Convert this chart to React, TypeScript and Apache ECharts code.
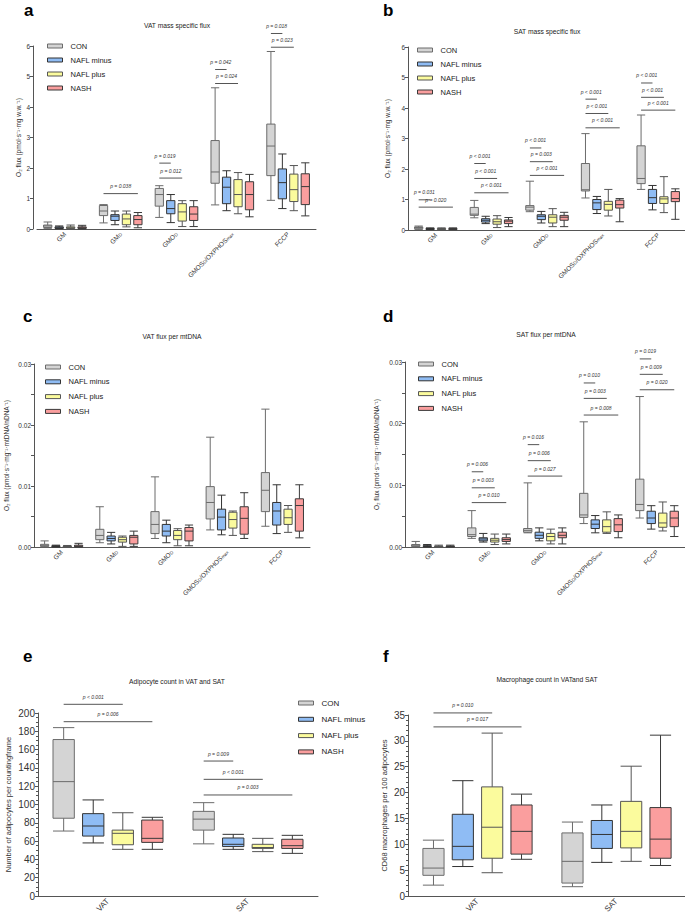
import React, { useEffect, useRef } from 'react';
import * as echarts from 'echarts';

const GROUPS = ['CON', 'NAFL minus', 'NAFL plus', 'NASH'];
const FILL = ['#d4d4d4', '#8fbcf4', '#fbfb9d', '#fa9e9e'];
const BORDER = ['#6b6b6b', '#333333', '#555555', '#3a3a3a'];
const FONT = '"Liberation Sans", Arial, sans-serif';

// categories
const fluxCats = ['GM', 'GM_D', 'GMO_D', 'GMOS_D/OXPHOS_max', 'FCCP'];
const tissueCats = ['VAT', 'SAT'];

// a: VAT mass specific flux [min, q1, median, q3, max]
const aCON = [[0.02, 0.05, 0.1, 0.13, 0.23], [0.2, 0.44, 0.59, 0.77, 0.8], [0.38, 0.75, 1.13, 1.33, 1.42], [0.79, 1.5, 1.87, 2.9, 4.63], [0.94, 1.75, 2.72, 3.44, 5.82]];
const aMinus = [[0.01, 0.02, 0.04, 0.07, 0.1], [0.14, 0.28, 0.42, 0.47, 0.59], [0.21, 0.5, 0.67, 0.93, 1.13], [0.6, 0.83, 1.37, 1.7, 1.91], [0.67, 0.99, 1.52, 1.97, 2.46]];
const aPlus = [[0, 0.02, 0.04, 0.07, 0.13], [0.07, 0.14, 0.33, 0.49, 0.59], [0.08, 0.26, 0.56, 0.83, 0.93], [0.5, 0.73, 1.13, 1.62, 1.85], [0.6, 0.9, 1.29, 1.8, 2.08]];
const aNash = [[0, 0.02, 0.04, 0.07, 0.12], [0.04, 0.14, 0.31, 0.44, 0.54], [0.08, 0.28, 0.49, 0.73, 0.93], [0.4, 0.63, 1.13, 1.55, 1.79], [0.43, 0.8, 1.39, 1.81, 2.17]];
const aSig: [number, number, number, number, string][] = [[1, 0, 3, 1.16, 'p = 0.038'], [2, 0, 1, 2.16, 'p = 0.019'], [2, 0, 2, 1.67, 'p = 0.012'], [3, 0, 1, 5.23, 'p = 0.042'], [3, 0, 2, 4.77, 'p = 0.024'], [4, 0, 1, 6.41, 'p = 0.018'], [4, 0, 2, 5.96, 'p = 0.023']];

// b: SAT mass specific flux
const bCON = [[0.02, 0.04, 0.08, 0.1, 0.13], [0.4, 0.48, 0.52, 0.74, 0.97], [0.6, 0.65, 0.75, 0.8, 1.6], [1.05, 1.28, 1.32, 2.18, 3.16], [1.33, 1.52, 1.69, 2.76, 3.77]];
const bMinus = [[0.01, 0.02, 0.04, 0.05, 0.07], [0.21, 0.26, 0.32, 0.37, 0.45], [0.23, 0.34, 0.45, 0.5, 0.61], [0.54, 0.67, 0.89, 1.0, 1.1], [0.66, 0.87, 1.06, 1.33, 1.46]];
const bPlus = [[0.01, 0.02, 0.03, 0.05, 0.07], [0.08, 0.19, 0.27, 0.36, 0.47], [0.11, 0.23, 0.42, 0.5, 0.7], [0.46, 0.65, 0.84, 0.94, 1.33], [0.57, 0.87, 1.02, 1.09, 1.75]];
const bNash = [[0.01, 0.02, 0.03, 0.05, 0.07], [0.11, 0.21, 0.29, 0.33, 0.41], [0.11, 0.32, 0.42, 0.48, 0.58], [0.27, 0.72, 0.83, 0.98, 1.03], [0.35, 0.93, 1.03, 1.26, 1.35]];
const bSig: [number, number, number, number, string][] = [[0, 0, 1, 0.99, 'p = 0.031'], [0, 0, 3, 0.75, 'p = 0.020'], [1, 0, 1, 2.18, 'p < 0.001'], [1, 0, 2, 1.69, 'p < 0.001'], [1, 0, 3, 1.22, 'p < 0.001'], [2, 0, 1, 2.69, 'p < 0.001'], [2, 0, 2, 2.24, 'p = 0.003'], [2, 0, 3, 1.79, 'p < 0.001'], [3, 0, 1, 4.29, 'p < 0.001'], [3, 0, 2, 3.82, 'p < 0.001'], [3, 0, 3, 3.35, 'p < 0.001'], [4, 0, 1, 4.82, 'p < 0.001'], [4, 0, 2, 4.35, 'p < 0.001'], [4, 0, 3, 3.93, 'p < 0.001']];

// c: VAT flux per mtDNA
const cCON = [[0, 0.0001, 0.00027, 0.00044, 0.001], [0.0007, 0.0012, 0.0019, 0.0029, 0.0066], [0.0014, 0.0022, 0.0037, 0.0058, 0.0115], [0.0028, 0.0046, 0.0073, 0.0099, 0.018], [0.0034, 0.0058, 0.0093, 0.0122, 0.0226]];
const cMinus = [[0, 0.00005, 0.0001, 0.0002, 0.0003], [0.0005, 0.001, 0.0014, 0.0018, 0.0024], [0.0007, 0.0018, 0.0026, 0.0037, 0.0044], [0.002, 0.0028, 0.0049, 0.0062, 0.0085], [0.0022, 0.0036, 0.0059, 0.0073, 0.0102]];
const cPlus = [[0, 0.00003, 0.0001, 0.00015, 0.00025], [0.0001, 0.0008, 0.0012, 0.0016, 0.0018], [0.0002, 0.0012, 0.0019, 0.0027, 0.003], [0.0019, 0.0031, 0.0045, 0.0057, 0.0059], [0.0024, 0.0037, 0.0048, 0.0062, 0.0068]];
const cNash = [[0, 0.00005, 0.00015, 0.0003, 0.0006], [0.0001, 0.0005, 0.0016, 0.0019, 0.0026], [0.0002, 0.001, 0.0026, 0.0032, 0.0036], [0.0014, 0.0021, 0.0047, 0.0066, 0.0089], [0.0015, 0.0026, 0.0068, 0.0079, 0.0102]];
const cSig: [number, number, number, number, string][] = [];

// d: SAT flux per mtDNA
const dCON = [[0, 0.0001, 0.0002, 0.0004, 0.0009], [0.0014, 0.0017, 0.002, 0.0031, 0.0059], [0.0023, 0.0024, 0.0027, 0.003, 0.0104], [0.0038, 0.0048, 0.0052, 0.0087, 0.0203], [0.0047, 0.0059, 0.0069, 0.011, 0.0244]];
const dMinus = [[0, 0.0001, 0.00015, 0.0002, 0.0004], [0.0008, 0.001, 0.0013, 0.0015, 0.0022], [0.001, 0.0014, 0.0019, 0.0024, 0.0031], [0.0023, 0.003, 0.0037, 0.0044, 0.0051], [0.0029, 0.0038, 0.0047, 0.0058, 0.0067]];
const dPlus = [[0, 0.00005, 0.0001, 0.00015, 0.0003], [0.0004, 0.0008, 0.0011, 0.0014, 0.0021], [0.0005, 0.001, 0.0017, 0.0022, 0.0029], [0.0022, 0.0024, 0.0033, 0.0044, 0.0057], [0.0026, 0.0032, 0.0039, 0.0055, 0.0073]];
const dNash = [[0, 0.00005, 0.0001, 0.00015, 0.0003], [0.0005, 0.0009, 0.0012, 0.0015, 0.0021], [0.0005, 0.0015, 0.0019, 0.0024, 0.0031], [0.0015, 0.0025, 0.0036, 0.0046, 0.0052], [0.0017, 0.0033, 0.0047, 0.0058, 0.0067]];
const dSig: [number, number, number, number, string][] = [[1, 0, 1, 0.0122, 'p = 0.006'], [1, 0, 2, 0.0096, 'p = 0.003'], [1, 0, 3, 0.0072, 'p = 0.010'], [2, 0, 1, 0.0166, 'p = 0.016'], [2, 0, 2, 0.014, 'p = 0.006'], [2, 0, 3, 0.0115, 'p = 0.027'], [3, 0, 1, 0.0266, 'p = 0.010'], [3, 0, 2, 0.0241, 'p = 0.003'], [3, 0, 3, 0.0214, 'p = 0.008'], [4, 0, 1, 0.0305, 'p = 0.019'], [4, 0, 2, 0.028, 'p = 0.009'], [4, 0, 3, 0.0255, 'p = 0.020']];

// e: adipocyte count
const eCON = [[71, 85, 125, 171, 184], [57, 72, 84, 92.5, 102]];
const eMinus = [[58, 65.5, 76.5, 90, 105], [51, 54, 56.5, 63.4, 67.4]];
const ePlus = [[51, 56, 68.5, 72, 91], [48.5, 52, 53, 56.5, 63]];
const eNash = [[51, 58.6, 63, 83, 86], [46.6, 52, 55, 62, 66.3]];
const eSig: [number, number, number, number, string][] = [[0, 0, 2, 209.5, 'p < 0.001'], [0, 0, 3, 190.5, 'p = 0.006'], [1, 0, 1, 147.5, 'p = 0.009'], [1, 0, 2, 127.5, 'p < 0.001'], [1, 0, 3, 110.4, 'p = 0.003']];

// f: macrophage count
const fCON = [[2.1, 4.0, 5.4, 9.2, 10.8], [1.8, 2.5, 6.7, 12.2, 14.3]];
const fMinus = [[5.7, 7.0, 9.6, 15.8, 22.3], [6.5, 9.2, 11.9, 14.6, 17.6]];
const fPlus = [[4.5, 7.3, 13.3, 21.1, 31.5], [6.7, 9.3, 12.5, 18.3, 25.1]];
const fNash = [[7.1, 8.1, 12.5, 17.6, 19.7], [5.9, 7.3, 11.0, 17.1, 31.1]];
const fSig: [number, number, number, number, string][] = [[0, 0, 2, 35.4, 'p = 0.010'], [0, 0, 3, 32.7, 'p = 0.017']];

const Y_FLUX_MASS = 'O\u2082 flux (pmol\u00b7s\u207b\u00b9\u00b7mg w.w.\u207b\u00b9)';
const Y_FLUX_MT = 'O\u2082 flux (pmol\u00b7s\u207b\u00b9\u00b7mg\u207b\u00b9\u00b7mtDNA/nDNA\u207b\u00b9)';

function richCat(v: string) {
  return v
    .split(/(_[A-Za-z]+)/)
    .filter(Boolean)
    .map((p) => (p.startsWith('_') ? `{s|${p.slice(1)}}` : `{n|${p}}`))
    .join('');
}

const fmtMt = (v: number) => (Math.abs(v * 100 - Math.round(v * 100)) < 1e-6 ? v.toFixed(2) : '');

const panels = [
  { cats: fluxCats, groups: [aCON, aMinus, aPlus, aNash], sig: aSig, grid: { left: 37, top: 46, width: 279, height: 183 }, yOffset: 4, max: 6, interval: 1, minor: 0, fmt: null as any, yName: Y_FLUX_MASS, nameGap: 10, lblFs: 6.5, xFs: 6.5, nameFs: 6.5 },
  { cats: fluxCats, groups: [bCON, bMinus, bPlus, bNash], sig: bSig, grid: { left: 408, top: 47, width: 278, height: 183 }, yOffset: 0, max: 6, interval: 1, minor: 0, fmt: null as any, yName: Y_FLUX_MASS, nameGap: 17, lblFs: 6.5, xFs: 6.5, nameFs: 6.5 },
  { cats: fluxCats, groups: [cCON, cMinus, cPlus, cNash], sig: cSig, grid: { left: 34, top: 364, width: 276, height: 183 }, yOffset: 0, max: 0.03, interval: 0.005, minor: 0, fmt: fmtMt, yName: Y_FLUX_MT, nameGap: 24, lblFs: 6.5, xFs: 6.5, nameFs: 6.5 },
  { cats: fluxCats, groups: [dCON, dMinus, dPlus, dNash], sig: dSig, grid: { left: 405, top: 362, width: 280, height: 185 }, yOffset: 0, max: 0.03, interval: 0.005, minor: 0, fmt: fmtMt, yName: Y_FLUX_MT, nameGap: 25, lblFs: 6.5, xFs: 6.5, nameFs: 6.5 },
  { cats: tissueCats, groups: [eCON, eMinus, ePlus, eNash], sig: eSig, grid: { left: 38, top: 713, width: 280, height: 183 }, yOffset: 0, max: 200, interval: 20, minor: 4, fmt: null as any, yName: 'Number of adipocytes per countingframe', nameGap: 26, lblFs: 10, xFs: 8, nameFs: 7.5 },
  { cats: tissueCats, groups: [fCON, fMinus, fPlus, fNash], sig: fSig, grid: { left: 408, top: 715, width: 278, height: 181 }, yOffset: 0, max: 35, interval: 5, minor: 5, fmt: null as any, yName: 'CD68 macrophages per 100 adipocytes', nameGap: 20, lblFs: 10, xFs: 8, nameFs: 7.5 },
];

const titles = [
  { text: 'VAT mass specific flux', x: 177, y: 25 },
  { text: 'SAT mass specific flux', x: 547, y: 31 },
  { text: 'VAT flux per mtDNA', x: 172, y: 336 },
  { text: 'SAT flux per mtDNA', x: 546, y: 334 },
  { text: 'Adipocyte count in VAT and SAT', x: 177, y: 681 },
  { text: 'Macrophage count in VATand SAT', x: 547, y: 679 },
];
const letters = [
  { text: 'a', x: 24, y: 10 },
  { text: 'b', x: 383, y: 10 },
  { text: 'c', x: 23, y: 316 },
  { text: 'd', x: 383, y: 316 },
  { text: 'e', x: 23, y: 656 },
  { text: 'f', x: 383, y: 656 },
];
const legends = [
  { left: 47, top: 42, gap: 6, fs: 7.5 },
  { left: 417, top: 46, gap: 6, fs: 7.5 },
  { left: 45, top: 363, gap: 6.8, fs: 7.5 },
  { left: 418, top: 360, gap: 6.8, fs: 7.5 },
  { left: 298, top: 699, gap: 8.3, fs: 8 },
];

function buildOption() {
  const grid: any[] = [];
  const xAxis: any[] = [];
  const yAxis: any[] = [];
  const series: any[] = [];
  panels.forEach((p, i) => {
    grid.push({ ...p.grid, containLabel: false, outerBoundsMode: 'none' });
    xAxis.push({
      type: 'category',
      gridIndex: i,
      data: p.cats,
      axisLine: { lineStyle: { color: '#555', width: 1 } },
      axisTick: { alignWithLabel: true, length: 4, lineStyle: { color: '#555' } },
      axisLabel: {
        interval: 0,
        rotate: 45,
        margin: 4,
        color: '#333',
        fontFamily: FONT,
        fontSize: p.xFs,
        hideOverlap: false,
        formatter: richCat,
        rich: {
          n: { fontSize: p.xFs, color: '#333', fontFamily: FONT },
          s: { fontSize: p.xFs * 0.7, color: '#333', fontFamily: FONT, verticalAlign: 'bottom' },
        },
      },
    });
    yAxis.push({
      type: 'value',
      gridIndex: i,
      min: 0,
      max: p.max,
      interval: p.interval,
      offset: p.yOffset,
      axisLine: { show: true, lineStyle: { color: '#555', width: 1 } },
      axisTick: { show: true, length: 3, lineStyle: { color: '#555' } },
      minorTick: { show: p.minor > 0, splitNumber: p.minor || 5, length: 2, lineStyle: { color: '#555' } },
      splitLine: { show: false },
      axisLabel: {
        fontSize: p.lblFs,
        color: '#333',
        fontFamily: FONT,
        margin: 3,
        formatter: p.fmt || undefined,
      },
      name: p.yName,
      nameLocation: 'middle',
      nameGap: p.nameGap,
      nameTextStyle: { fontSize: p.nameFs, color: '#333', fontFamily: FONT },
    });
    p.groups.forEach((g, gi) => {
      series.push({
        type: 'boxplot',
        name: GROUPS[gi],
        xAxisIndex: i,
        yAxisIndex: i,
        data: g,
        itemStyle: { color: FILL[gi], borderColor: BORDER[gi], borderWidth: 1 },
        emphasis: { disabled: true },
        silent: true,
      });
    });
    const sig = p.sig;
    series.push({
      type: 'custom',
      xAxisIndex: i,
      yAxisIndex: i,
      silent: true,
      z: 10,
      clip: false,
      encode: { x: 0, y: 3 },
      data: sig.map((s) => [s[0], s[1], s[2], s[3]]),
      renderItem: (params: any, api: any) => {
        const cat = api.value(0);
        const from = api.value(1);
        const to = api.value(2);
        const yv = api.value(3);
        const pt = api.coord([cat, yv]);
        const bw = api.size([1, 0])[0];
        const avail = bw * 0.8 - 2;
        const gap = (avail / 4) * 0.3;
        const boxW = (avail - 3 * gap) / 4;
        const off = (k: number) => boxW / 2 - avail / 2 + k * (gap + boxW);
        const x1 = pt[0] + off(from);
        const x2 = pt[0] + off(to);
        return {
          type: 'group',
          children: [
            { type: 'line', shape: { x1, y1: pt[1], x2, y2: pt[1] }, style: { stroke: '#555', lineWidth: 1 } },
            {
              type: 'text',
              style: {
                text: sig[params.dataIndex][4],
                x: (x1 + x2) / 2,
                y: pt[1] - 7.5,
                align: 'center',
                verticalAlign: 'middle',
                fontSize: 5,
                fontStyle: 'italic',
                fontFamily: FONT,
                fill: '#333',
              },
            },
          ],
        };
      },
    });
  });

  const legend = legends.map((l) => ({
    data: GROUPS.map((name, gi) => ({
      name,
      itemStyle: { color: FILL[gi], borderColor: BORDER[gi], borderWidth: 1 },
      textStyle: { color: '#222', fontSize: l.fs, fontFamily: FONT },
    })),
    orient: 'vertical',
    left: l.left,
    top: l.top,
    itemWidth: 15,
    itemHeight: 4,
    itemGap: l.gap,
    padding: 0,
    icon: 'rect',
    selectedMode: false,
    textStyle: { fontSize: l.fs, color: '#222', fontFamily: FONT, padding: [0, 0, 0, 3] },
  }));

  const graphic: any[] = [];
  titles.forEach((t) =>
    graphic.push({
      type: 'text',
      x: t.x,
      y: t.y,
      silent: true,
      style: { text: t.text, align: 'center', verticalAlign: 'middle', fontSize: 6.7, fontFamily: FONT, fill: '#222' },
    })
  );
  letters.forEach((t) =>
    graphic.push({
      type: 'text',
      x: t.x,
      y: t.y,
      silent: true,
      style: { text: t.text, align: 'left', verticalAlign: 'middle', fontSize: 17, fontWeight: 'bold', fontFamily: FONT, fill: '#000' },
    })
  );

  return {
    animation: false,
    backgroundColor: '#ffffff',
    textStyle: { fontFamily: FONT },
    grid,
    xAxis,
    yAxis,
    legend,
    graphic,
    series,
  };
}

export default function App() {
  const ref = useRef<HTMLDivElement>(null);
  useEffect(() => {
    if (!ref.current) return;
    const chart = echarts.init(ref.current, undefined, { renderer: 'svg' });
    chart.setOption(buildOption() as any);
    return () => chart.dispose();
  }, []);
  return <div ref={ref} style={{ position: 'absolute', left: 0, top: 0, width: 685, height: 918 }} />;
}
